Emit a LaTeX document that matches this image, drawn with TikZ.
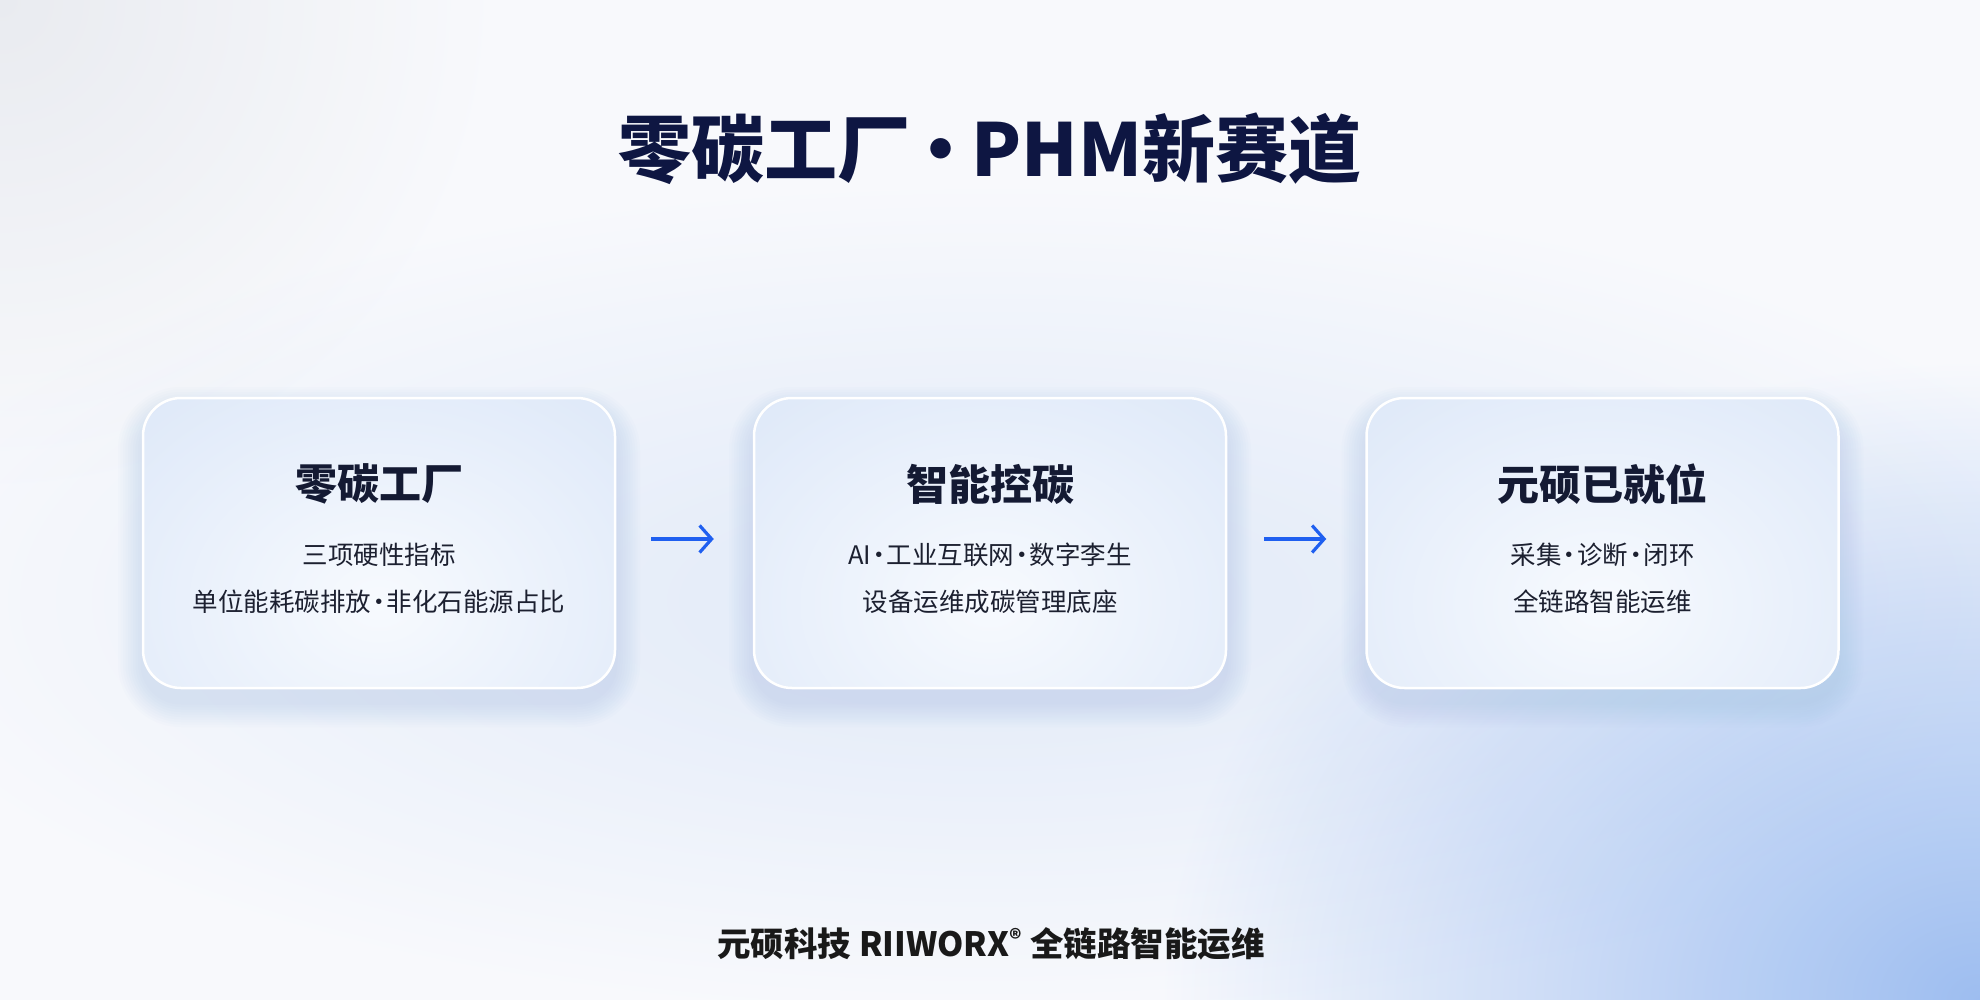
\documentclass[tikz,border=0pt]{standalone}
\usepackage{fontspec}
\setmainfont{Noto Sans CJK SC}
\usetikzlibrary{arrows.meta}
\definecolor{bgbase}{HTML}{F8F9FC}
\definecolor{glowc}{HTML}{E7EFFB}
\definecolor{cornerblue}{HTML}{A2C2F3}
\definecolor{greyish}{HTML}{F0F1F3}
\definecolor{cardin}{HTML}{F7FAFE}
\definecolor{cardout}{HTML}{DCE7F8}
\definecolor{shadowc}{HTML}{9DBBEA}
\definecolor{titlec}{HTML}{0E1642}
\definecolor{headc}{HTML}{141A33}
\definecolor{bodyc}{HTML}{1C2030}
\definecolor{arrowc}{HTML}{1F5FF0}
\newcommand{\sdot}{\kern-5pt·\kern-5pt}
\newcommand{\tdot}{\kern-6pt·\kern-6pt}
\begin{document}
\begin{tikzpicture}[x=1pt,y=-1pt,
  card/.style={rounded corners=38pt, minimum width=472pt, minimum height=290pt,
    draw=white, line width=2.5pt, inner sep=0pt,
    path picture={\shade[inner color=cardin, outer color=cardout]
      ([yshift=-60pt]path picture bounding box.center) ellipse (380 and 300);}},
  head/.style={font=\fontsize{42}{50}\selectfont\bfseries, text=headc},
  body/.style={font=\fontsize{25.5}{30}\selectfont, text=bodyc},
  titlestyle/.style={font=\fontsize{73}{80}\selectfont\bfseries, text=titlec},
  footstyle/.style={font=\fontsize{33.5}{38}\selectfont\bfseries, text=black!90},
  flow/.style={draw=arrowc, line width=3.2pt, -{Straight Barb[length=12pt,width=27pt]}},
]
\useasboundingbox (0,0) rectangle (1980,1000);
\fill[bgbase] (0,0) rectangle (1980,1000);
\begin{scope}
  \clip (0,0) rectangle (1980,1000);
  \shade[blend mode=multiply, inner color=glowc, outer color=white] (990,600) ellipse (1150 and 420);
  \shade[blend mode=multiply, inner color=cornerblue, outer color=white] (1980,1000) ellipse (820 and 640);
  \shade[blend mode=multiply, inner color=greyish, outer color=white] (0,0) circle (500);
\end{scope}
% soft shadows under the cards
\foreach \cx in {379,990,1602.5}{
  \foreach \i in {1,...,10}{
    \fill[shadowc, opacity=0.03, rounded corners={38pt+\i*2.5pt}]
      ({\cx-236-\i*2.5},{398+14-\i*2.5}) rectangle ({\cx+236+\i*2.5},{688+14+\i*2.5});
  }
}
\node[card] (c1) at (379,543) {};
\node[card] (c2) at (990,543) {};
\node[card] (c3) at (1602.5,543) {};

\node[titlestyle] (title) at (990,149) {零碳工厂\tdot PHM新赛道};

\node[head] (h1) at (379,484) {零碳工厂};
\node[body] (a1) at (379,555) {三项硬性指标};
\node[body] (b1) at (379,602) {单位能耗碳排放\sdot 非化石能源占比};

\node[head] (h2) at (990,484) {智能控碳};
\node[body] (a2) at (990,555) {AI\sdot 工业互联网\sdot 数字李生};
\node[body] (b2) at (990,602) {设备运维成碳管理底座};

\node[head] (h3) at (1602.5,484) {元硕已就位};
\node[body] (a3) at (1602.5,555) {采集\sdot 诊断\sdot 闭环};
\node[body] (b3) at (1602.5,602) {全链路智能运维};

\draw[flow] ([xshift=35pt,yshift=4pt]c1.east) -- ([xshift=-39pt,yshift=4pt]c2.west);
\draw[flow] ([xshift=37pt,yshift=4pt]c2.east) -- ([xshift=-39pt,yshift=4pt]c3.west);

\node[footstyle] (foot) at (991,944) {元硕科技 RIIWORX\textsuperscript{®} 全链路智能运维};
\end{tikzpicture}
\end{document}
